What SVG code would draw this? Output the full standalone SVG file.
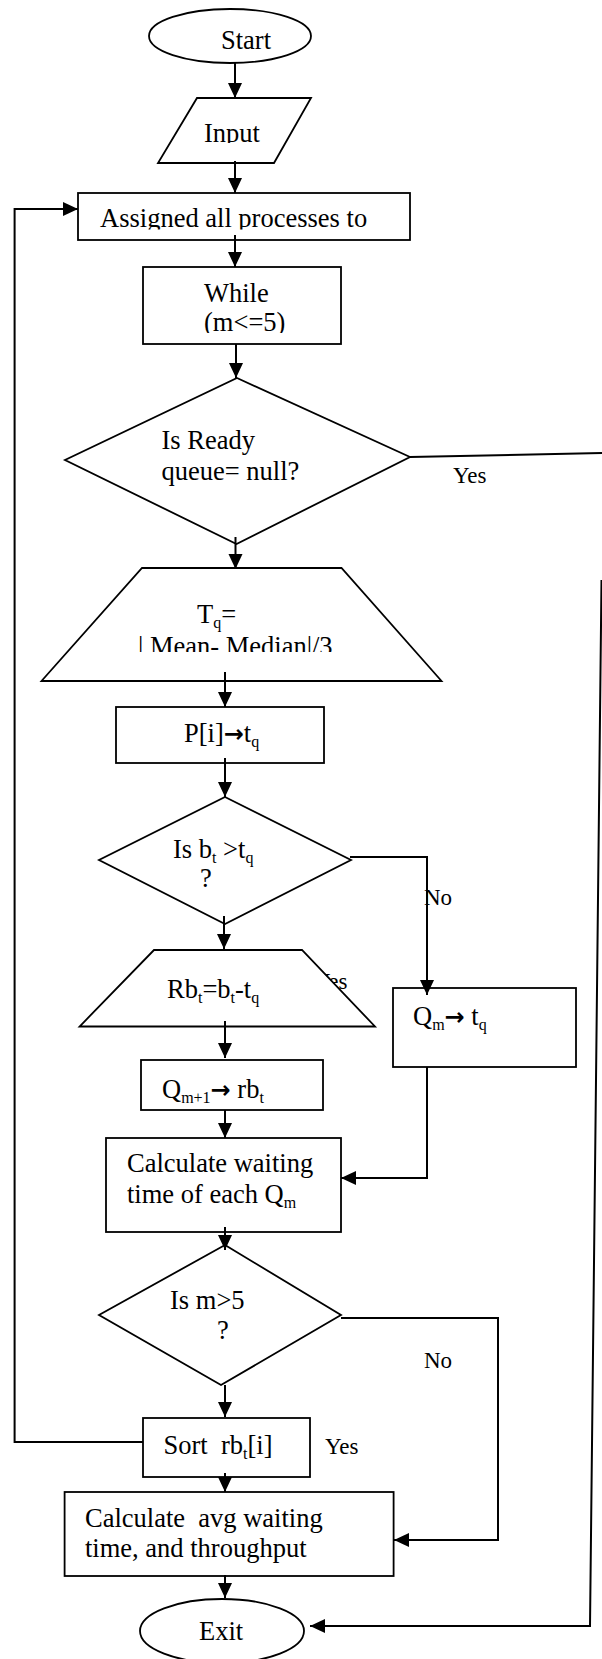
<svg xmlns="http://www.w3.org/2000/svg" width="602" height="1659" viewBox="0 0 602 1659">
<style>
  .shape { fill: #fff; stroke: #000; stroke-width: 1.8; }
  .conn { fill: none; stroke: #000; stroke-width: 2; }
  text { font-family: "Liberation Serif", "Times New Roman", serif; font-size: 26.5px; fill: #000; }
  .lbl { font-size: 23px; }
  .sub { font-size: 16px; }
  .arr { font-family: "DejaVu Sans", sans-serif; font-weight: bold; font-size: 24px; }
</style>
<defs>
  <marker id="ah" markerUnits="userSpaceOnUse" markerWidth="16" markerHeight="15" refX="15" refY="7" orient="auto">
    <path d="M0,0 L15,7 L0,14 z" fill="#000"/>
  </marker>
  <clipPath id="cInput"><rect x="150" y="98" width="170" height="45"/></clipPath>
  <clipPath id="cAssign"><rect x="79" y="194" width="330" height="35.5"/></clipPath>
  <clipPath id="cWhile"><rect x="144" y="306" width="196" height="27"/></clipPath>
  <clipPath id="cMean"><rect x="60" y="630" width="380" height="22"/></clipPath>
</defs>

<!-- label partly hidden behind trapezoid -->
<g id="hidden-label">
  <text class="lbl" x="314" y="989">Yes</text>
</g>

<g id="start">
  <ellipse class="shape" cx="230" cy="36" rx="81" ry="27"/>
  <text x="221" y="49">Start</text>
</g>

<g id="input">
  <polygon class="shape" points="197,98 311,98 274,163 158,163"/>
  <text x="204" y="142" clip-path="url(#cInput)">Input</text>
</g>

<g id="assign">
  <rect class="shape" x="78" y="193" width="332" height="47"/>
  <text x="100" y="227" clip-path="url(#cAssign)">Assigned all processes to</text>
</g>

<g id="while">
  <rect class="shape" x="143" y="267" width="198" height="77"/>
  <text x="204" y="302">While</text>
  <text x="204" y="331" clip-path="url(#cWhile)">(m&lt;=5)</text>
</g>

<g id="ready">
  <polygon class="shape" points="237,378 410,457 236.5,544 65,460"/>
  <text x="161.5" y="449">Is Ready</text>
  <text x="161.5" y="480">queue= null?</text>
</g>

<g id="tq">
  <polygon class="shape" points="142,568 341.5,568 441.5,681 41.5,681"/>
  <text x="197" y="623">T<tspan class="sub" dy="5">q</tspan><tspan dy="-5">=</tspan></text>
  <text x="138" y="655" clip-path="url(#cMean)">| Mean- Median|/3</text>
</g>

<g id="p">
  <rect class="shape" x="116" y="707" width="208" height="56"/>
  <text x="184" y="742">P[i]<tspan class="arr">→</tspan>t<tspan class="sub" dy="5">q</tspan></text>
</g>

<g id="bt">
  <polygon class="shape" points="225,797 351,860 225,924 99,860"/>
  <text x="173" y="858" xml:space="preserve">Is b<tspan class="sub" dy="5">t</tspan><tspan dy="-5"> &gt;t</tspan><tspan class="sub" dy="5">q</tspan></text>
  <text x="200" y="887">?</text>
</g>

<g id="rbt">
  <polygon class="shape" points="154,950 302,950 375,1026.5 79.6,1026.5"/>
  <text x="167" y="998">Rb<tspan class="sub" dy="5">t</tspan><tspan dy="-5">=b</tspan><tspan class="sub" dy="5">t</tspan><tspan dy="-5">-t</tspan><tspan class="sub" dy="5">q</tspan></text>
</g>

<g id="qm">
  <rect class="shape" x="393" y="988" width="183" height="79"/>
  <text x="413" y="1025" xml:space="preserve">Q<tspan class="sub" dy="5">m</tspan><tspan class="arr" dy="-5">→</tspan> t<tspan class="sub" dy="5">q</tspan></text>
</g>

<g id="qm1">
  <rect class="shape" x="141" y="1060" width="182" height="50"/>
  <text x="162" y="1098" xml:space="preserve">Q<tspan class="sub" dy="5">m+1</tspan><tspan class="arr" dy="-5">→</tspan> rb<tspan class="sub" dy="5">t</tspan></text>
</g>

<g id="calc">
  <rect class="shape" x="106" y="1138" width="235" height="94"/>
  <text x="127" y="1172">Calculate waiting</text>
  <text x="127" y="1203">time of each Q<tspan class="sub" dy="5">m</tspan></text>
</g>

<g id="m5">
  <polygon class="shape" points="225,1245 341,1315 221,1385 99,1315"/>
  <text x="170" y="1309">Is m&gt;5</text>
  <text x="217" y="1339">?</text>
</g>

<g id="sort">
  <rect class="shape" x="143" y="1418" width="167" height="59"/>
  <text x="163.5" y="1454" xml:space="preserve">Sort  rb<tspan class="sub" dy="5">t</tspan><tspan dy="-5">[i]</tspan></text>
</g>

<g id="avg">
  <rect class="shape" x="64.6" y="1492" width="329" height="84"/>
  <text x="85" y="1527" xml:space="preserve">Calculate  avg waiting</text>
  <text x="85" y="1557">time, and throughput</text>
</g>

<g id="exit">
  <ellipse class="shape" cx="222" cy="1631" rx="82" ry="32"/>
  <text x="199" y="1640">Exit</text>
</g>

<g id="connectors">
  <path class="conn" d="M235,63 L235,98" marker-end="url(#ah)"/>
  <path class="conn" d="M235,161 L235,193" marker-end="url(#ah)"/>
  <path class="conn" d="M235,235 L235,267" marker-end="url(#ah)"/>
  <path class="conn" d="M236,344 L236,378" marker-end="url(#ah)"/>
  <path class="conn" d="M235.5,537 L235.5,569" marker-end="url(#ah)"/>
  <path class="conn" d="M225,672 L225,707" marker-end="url(#ah)"/>
  <path class="conn" d="M225,758 L225,797" marker-end="url(#ah)"/>
  <path class="conn" d="M350,857 L427,857 L427,995" marker-end="url(#ah)"/>
  <path class="conn" d="M224,916 L224,949" marker-end="url(#ah)"/>
  <path class="conn" d="M225,1021 L225,1058" marker-end="url(#ah)"/>
  <path class="conn" d="M225,1110 L225,1138" marker-end="url(#ah)"/>
  <path class="conn" d="M427,1067 L427,1178 L341,1178" marker-end="url(#ah)"/>
  <path class="conn" d="M225,1227 L225,1250" marker-end="url(#ah)"/>
  <path class="conn" d="M341,1318 L498,1318 L498,1540 L394,1540" marker-end="url(#ah)"/>
  <path class="conn" d="M225,1385 L225,1417" marker-end="url(#ah)"/>
  <path class="conn" d="M143,1442 L14.6,1442 L14.6,209 L78,209" marker-end="url(#ah)"/>
  <path class="conn" d="M225,1473 L225,1492" marker-end="url(#ah)"/>
  <path class="conn" d="M225,1575 L225,1598" marker-end="url(#ah)"/>
  <path class="conn" d="M410,457 L602,453"/>
  <path class="conn" d="M601.5,580 L590,1626 L310,1626" marker-end="url(#ah)"/>
</g>

<g id="labels">
  <text class="lbl" x="453" y="483">Yes</text>
  <text class="lbl" x="424" y="905">No</text>
  <text class="lbl" x="424" y="1368">No</text>
  <text class="lbl" x="325" y="1454">Yes</text>
</g>
</svg>
